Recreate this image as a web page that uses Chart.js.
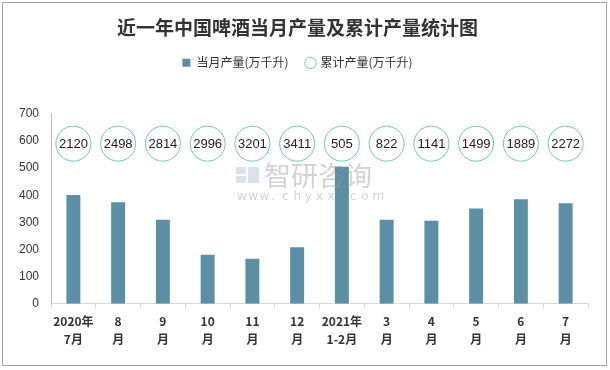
<!DOCTYPE html>
<html>
<head>
<meta charset="utf-8">
<script src="https://cdn.jsdelivr.net/npm/chart.js@4.4.0/dist/chart.umd.min.js"></script>
<style>
    html, body { margin: 0; padding: 0; background: #fff; }
    #wrap { width: 610px; height: 370px; }
</style>
</head>
<body>
<div id="wrap"><canvas id="beerChart" width="610" height="370"></canvas></div>
<script>
// Chart data
const months = [
    ['2020年', '7月'], ['8', '月'], ['9', '月'], ['10', '月'], ['11', '月'], ['12', '月'],
    ['2021年', '1-2月'], ['3', '月'], ['4', '月'], ['5', '月'], ['6', '月'], ['7', '月']
];
const monthlyOutput = [401, 374, 310, 181, 166, 208, 505, 310, 306, 351, 385, 370];
const cumulativeOutput = [2120, 2498, 2814, 2996, 3201, 3411, 505, 822, 1141, 1499, 1889, 2272];
const yTicks = [0, 100, 200, 300, 400, 500, 600, 700];

const circleLevel = 590; // height at which the cumulative bubbles sit

const cjk = "'Noto Sans CJK SC', 'Microsoft YaHei', sans-serif";

// extra room below the legend
const legendGap = {
    id: 'legendGap',
    beforeInit(chart) {
        const origFit = chart.legend.fit;
        chart.legend.fit = function() {
            origFit.call(this);
            this.height += 35;
        };
    }
};

// Cumulative value labels inside circles + watermark + frame
const extras = {
    id: 'extras',
    afterDatasetsDraw(chart) {
        const ctx = chart.ctx;
        const meta = chart.getDatasetMeta(1);
        ctx.save();
        ctx.font = "13px 'Liberation Sans', Arial, sans-serif";
        ctx.fillStyle = '#222';
        ctx.textAlign = 'center';
        ctx.textBaseline = 'middle';
        meta.data.forEach((pt, i) => {
            ctx.fillText(cumulativeOutput[i], pt.x, pt.y + 1);
        });

        // watermark
        ctx.globalAlpha = 0.4;
        ctx.fillStyle = '#9fb6d8';
        ctx.fillRect(236, 167, 10, 7);
        ctx.fillRect(236, 176, 10, 7);
        ctx.fillRect(248, 167, 11, 16);
        ctx.fillStyle = '#909090';
        ctx.textAlign = 'left';
        ctx.font = "27px " + cjk;
        ctx.fillText('智研咨询', 264, 176);
        ctx.font = "12px 'DejaVu Sans', sans-serif";
        const url = 'www.chyxx.com';
        for (let i = 0; i < url.length; i++) {
            ctx.fillText(url[i], 237 + i * 11.3, 197);
        }
        ctx.restore();
    },
    afterDraw(chart) {
        const ctx = chart.ctx;
        ctx.save();
        ctx.strokeStyle = '#a6a6a6';
        ctx.lineWidth = 1;
        ctx.strokeRect(2.5, 2.5, 604, 363);
        ctx.restore();
    }
};

new Chart(document.getElementById('beerChart'), {
    data: {
        labels: months,
        datasets: [{
            type: 'bar',
            label: '当月产量(万千升)',
            data: monthlyOutput,
            backgroundColor: '#5b8fa6',
            borderWidth: 0,
            barPercentage: 0.6,
            categoryPercentage: 0.52,
            pointStyle: 'rect',
            order: 2
        }, {
            type: 'line',
            label: '累计产量(万千升)',
            data: cumulativeOutput.map(() => circleLevel),
            showLine: false,
            pointRadius: 17.5,
            pointHoverRadius: 17.5,
            pointBackgroundColor: '#ffffff',
            pointBorderColor: '#6cc6c0',
            pointBorderWidth: 1,
            backgroundColor: '#ffffff',
            borderColor: '#6cc6c0',
            pointStyle: 'circle',
            order: 1
        }]
    },
    options: {
        responsive: false,
        animation: false,
        layout: {
            padding: { left: 7, right: 22, top: 10, bottom: 18 }
        },
        plugins: {
            title: {
                display: true,
                text: '近一年中国啤酒当月产量及累计产量统计图',
                color: '#333',
                font: { size: 19, weight: 'bold', family: cjk },
                padding: { top: 6, bottom: 0 }
            },
            legend: {
                position: 'top',
                labels: {
                    usePointStyle: true,
                    boxWidth: 8,
                    boxHeight: 8,
                    padding: 18,
                    color: '#333',
                    font: { size: 12, family: cjk },
                    sort: (a, b) => a.datasetIndex - b.datasetIndex
                }
            },
            tooltip: { enabled: false }
        },
        scales: {
            x: {
                grid: {
                    offset: true,
                    drawOnChartArea: false,
                    drawTicks: true,
                    tickLength: 5,
                    color: '#d9d9d9'
                },
                border: { color: '#d9d9d9' },
                ticks: {
                    maxRotation: 0,
                    autoSkip: false,
                    color: '#333',
                    padding: 3,
                    font: { size: 12, weight: 'bold', family: cjk, lineHeight: 1.55 }
                }
            },
            y: {
                min: 0,
                max: 700,
                afterBuildTicks(axis) {
                    axis.ticks = yTicks.map(v => ({ value: v }));
                },
                grid: { display: false, drawTicks: false },
                border: { color: '#bfbfbf' },
                ticks: {
                    color: '#333',
                    padding: 12,
                    font: { size: 12, family: "'Liberation Sans', Arial, sans-serif" }
                }
            }
        }
    },
    plugins: [legendGap, extras]
});
</script>
</body>
</html>
